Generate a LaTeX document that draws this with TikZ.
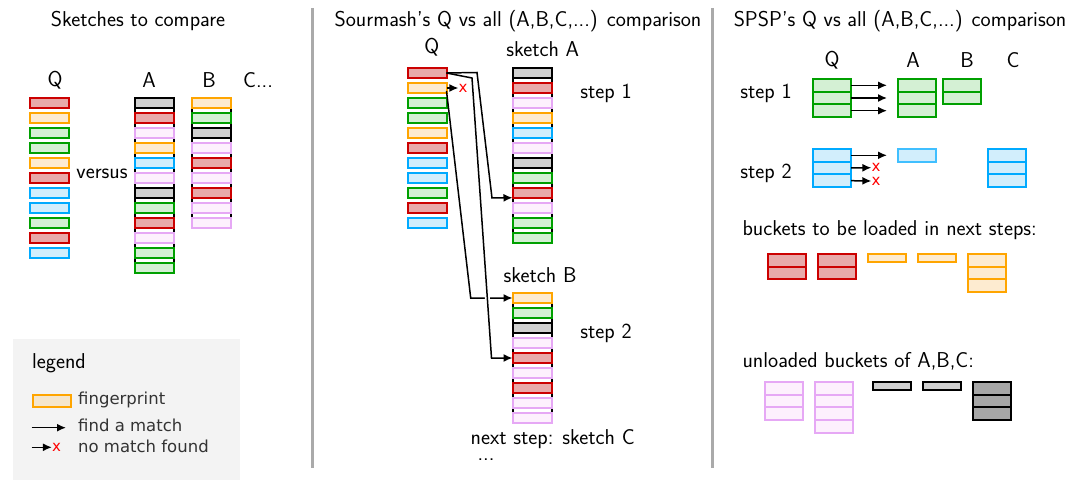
\documentclass[tikz,border=0pt]{standalone}
\usepackage{fontspec}
\usetikzlibrary{arrows.meta,backgrounds}

\newfontfamily\legfamily{DejaVu Sans}
\newcommand\txtfont{\sffamily\fontsize{21.5}{25}\selectfont}
\newcommand\legfont{\legfamily\fontsize{16.5}{20}\selectfont}
\newcommand\xfont{\legfamily\fontsize{15}{18}\selectfont}

\definecolor{rddraw}{HTML}{CC0000}\definecolor{rdfill}{HTML}{E8A9A9}
\definecolor{ogdraw}{HTML}{FFA500}\definecolor{ogfill}{HTML}{FDEBD0}
\definecolor{gndraw}{HTML}{00A000}\definecolor{gnfill}{HTML}{D4F0D4}
\definecolor{bldraw}{HTML}{00AAFF}\definecolor{blfill}{HTML}{D2EEFC}
\definecolor{pkdraw}{HTML}{E6A8F5}\definecolor{pkfill}{HTML}{FDF0FD}
\definecolor{gyfill}{HTML}{D0D0D0}
\definecolor{dkfill}{HTML}{A6A6A6}
\definecolor{legfill}{HTML}{F5E6CC}
\definecolor{legbg}{HTML}{F3F3F3}
\definecolor{legtxt}{HTML}{333333}
\definecolor{sepgray}{HTML}{AAAAAA}

\tikzset{
  fp/.style={rectangle, minimum width=39pt, minimum height=9.5pt,
    inner sep=0pt, outer sep=0pt, line width=2pt},
  bk/.style={rectangle, minimum width=38pt, minimum height=12.7pt,
    inner sep=0pt, outer sep=0pt, line width=2pt},
  rd/.style={draw=rddraw, fill=rdfill},
  og/.style={draw=ogdraw, fill=ogfill},
  gn/.style={draw=gndraw, fill=gnfill},
  bl/.style={draw=bldraw, fill=blfill},
  pk/.style={draw=pkdraw, fill=pkfill},
  gy/.style={draw=black, fill=gyfill},
  dk/.style={draw=black, fill=dkfill},
}

\begin{document}
\begin{tikzpicture}[
  x=1pt, y=-1pt,
  every node/.style={font=\txtfont, text=black},
  match/.style={-{Latex[length=9pt,width=8pt]}, line width=1.5pt},
  nomatch/.style={font=\xfont, text=red, inner sep=0pt},
  legtext/.style={font=\legfont, text=legtxt, anchor=west, inner sep=0pt},
  side/.style={line width=2pt, black},
  sep/.style={line width=3pt, sepgray},
  ]

  \useasboundingbox (0,0) rectangle (1073,481);

  % separators
  \draw[sep] (312,8) -- (312,468);
  \draw[sep] (712,8) -- (712,468);

  % ---- sketches to compare
  \node (ltitle) at (138,21) {Sketches to compare};
  \node (lqlab) at (55,80) {Q};
  \node (lalab) at (149,80) {A};
  \node (lblab) at (209,80) {B};
  \node (lclab) at (258,80) {C...};

  \foreach \c [count=\i] in {rd,og,gn,gn,og,rd,bl,bl,gn,rd,bl}
    \node[fp,\c] (lq\i) at (49.5,88+15*\i) {};
  \foreach \c [count=\i] in {gy,rd,pk,og,bl,pk,gy,gn,rd,pk,gn,gn}
    \node[fp,\c] (la\i) at (154.5,88+15*\i) {};
  \foreach \c [count=\i] in {og,gn,gy,pk,rd,pk,rd,pk,pk}
    \node[fp,\c] (lb\i) at (211.5,88+15*\i) {};

  \node (versus) at (102,174) {versus};

  % ---- sourmash
  \node (mtitle) at (518,21) {Sourmash's Q vs all (A,B,C,...) comparison};
  \node (mqlab) at (431.7,47) {Q};
  \node (malab) at (542.7,49) {sketch A};
  \node (mstep1) at (606,93) {step 1};
  \node (mblab) at (540,275) {sketch B};
  \node (mstep2) at (606,333) {step 2};
  \node[inner sep=0pt] (mnext) at (552.7,439) {next step: sketch C};
  \node[inner sep=0pt] (mdots) at (486,460) {...};

  \foreach \c [count=\i] in {rd,og,gn,gn,og,rd,bl,bl,gn,rd,bl}
    \node[fp,\c] (mq\i) at (427,58+15*\i) {};
  \foreach \c [count=\i] in {gy,rd,pk,og,bl,pk,gy,gn,rd,pk,gn,gn}
    \node[fp,\c] (ma\i) at (532,58+15*\i) {};
  \foreach \c [count=\i] in {og,gn,gy,pk,rd,pk,rd,pk,pk}
    \node[fp,\c] (mb\i) at (532,283+15*\i) {};

  \begin{pgfonlayer}{background}
    \foreach \s/\e in {la1/la12,lb1/lb9,ma1/ma12,mb1/mb9}{
      \draw[side] (\s.north west) -- (\e.south west);
      \draw[side] (\s.north east) -- (\e.south east);
    }
  \end{pgfonlayer}

  \node[nomatch] (mx1) at (463,88) {x};
  \draw[match] (mq2.east) -- (mx1.west);
  \draw[match] (mq1.east) -- (477,72.5) -- (492,198) -- (ma9.south west);
  \draw[match] ([yshift=-3pt]mq2.east) -- (470.7,298) -- (mb1.west);
  \draw[match, preaction={draw, -, white, line width=5pt,
      shorten <=15pt, shorten >=4pt}]
       (mq1.east) -- (472,78) -- (491.5,358) -- (mb5.west);

  % ---- SPSP
  \node (rtitle) at (900,21) {SPSP's Q vs all (A,B,C,...) comparison};
  \node (rqlab) at (832,60) {Q};
  \node (ralab) at (913,60) {A};
  \node (rblab) at (967,60) {B};
  \node (rclab) at (1013,60) {C};
  \node (rstep1) at (766,93) {step 1};
  \node (rstep2) at (766,173) {step 2};

  % step 1
  \foreach \k in {1,2,3}{
    \node[bk,gn] (rq1\k) at (832,72.6+12.7*\k) {};
    \node[bk,gn] (ra1\k) at (917,72.6+12.7*\k) {};
  }
  \foreach \k in {1,2}
    \node[bk,gn] (rb1\k) at (962,72.6+12.7*\k) {};
  \foreach \k in {1,2,3}
    \draw[match] (rq1\k.east) -- ([xshift=-11pt]ra1\k.west);

  % step 2
  \foreach \k in {1,2,3}{
    \node[bk,bl] (rq2\k) at (832,142.6+12.7*\k) {};
    \node[bk,bl] (rc2\k) at (1007,142.6+12.7*\k) {};
  }
  \node[bk,bl,draw=bldraw!75] (ra2) at (917,155.3) {};
  \node[nomatch] (rx1) at (876,167.7) {x};
  \node[nomatch] (rx2) at (876,181) {x};
  \draw[match] (rq21.east) -- ([xshift=-11pt]ra2.west);
  \draw[match] (rq22.east) -- (rx1.west);
  \draw[match] (rq23.east) -- (rx2.west);

  % buckets
  \node[anchor=west] (loadlab) at (739,230) {buckets to be loaded in next steps:};
  \foreach \k in {1,2}{
    \node[bk,rd] (ld1\k) at (787,247.6+12.7*\k) {};
    \node[bk,rd] (ld2\k) at (837,247.6+12.7*\k) {};
  }
  \node[bk,og,minimum height=8pt] (ld3) at (887,258.2) {};
  \node[bk,og,minimum height=8pt] (ld4) at (937,258.2) {};
  \foreach \k in {1,2,3}
    \node[bk,og] (ld5\k) at (987,247.6+12.7*\k) {};

  \node[anchor=west] (unloadlab) at (739,361) {unloaded buckets of A,B,C:};
  \foreach \k in {1,2,3}{
    \node[bk,pk] (ul1\k) at (784,375.6+12.7*\k) {};
    \node[bk,dk] (ul5\k) at (992,375.6+12.7*\k) {};
  }
  \foreach \k in {1,2,3,4}
    \node[bk,pk] (ul2\k) at (834,375.6+12.7*\k) {};
  \node[bk,gy,minimum height=8pt] (ul3) at (892,386) {};
  \node[bk,gy,minimum height=8pt] (ul4) at (942,386) {};

  % ---- legend
  \fill[legbg] (13,339) rectangle (240,480);
  \node (leghead) at (59,363) {legend};
  \node[bk, draw=ogdraw, fill=legfill, minimum height=12pt] (legfp) at (51.7,401.3) {};
  \node[legtext] (legfptxt) at (78,400) {fingerprint};
  \coordinate (legms) at (31.7,427.7);
  \coordinate (legme) at (66,427.7);
  \draw[match] (legms) -- (legme);
  \node[legtext] (legmtxt) at (78,425) {find a match};
  \coordinate (legns) at (31.7,447.3);
  \node[nomatch] (legx) at (56.5,447.3) {x};
  \draw[match] (legns) -- (legx.west);
  \node[legtext] (legntxt) at (78,446) {no match found};

\end{tikzpicture}
\end{document}
